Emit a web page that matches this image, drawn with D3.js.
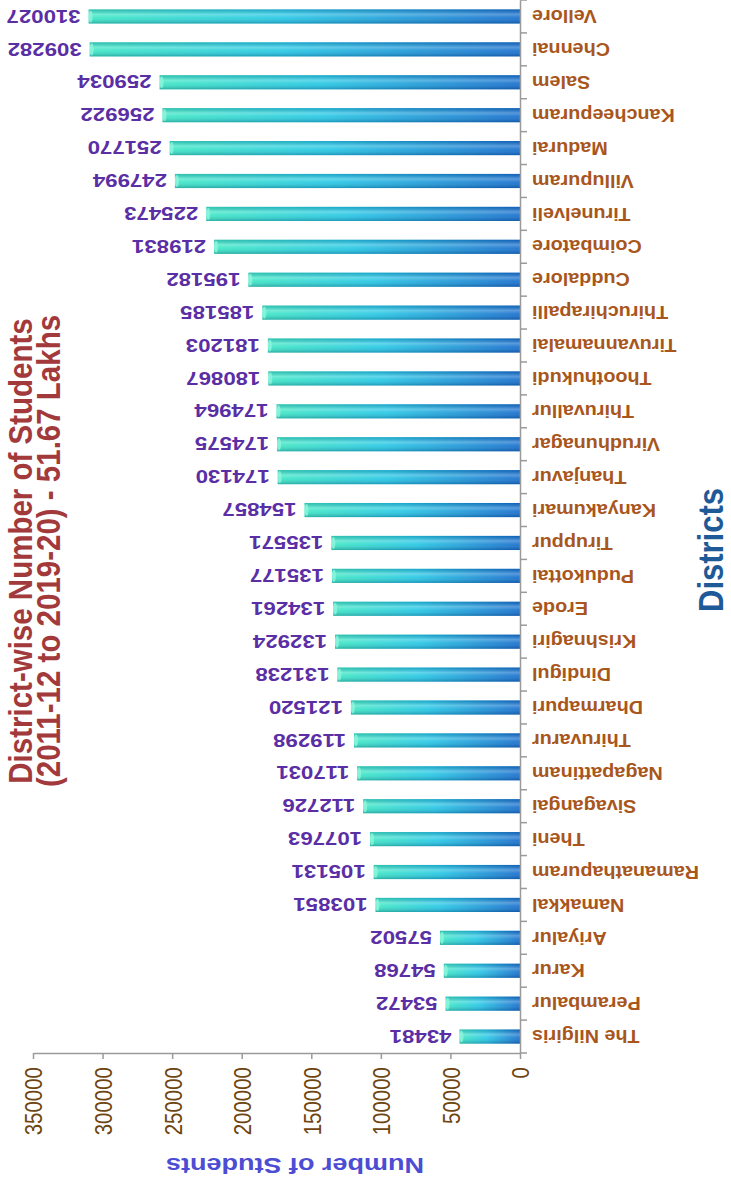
<!DOCTYPE html>
<html>
<head>
<meta charset="utf-8">
<script src="https://cdn.jsdelivr.net/npm/d3@7"></script>
<style>
    body { margin: 0; background: #fff; }
    svg { display: block; font-family: "Liberation Sans", Arial, sans-serif; }
</style>
</head>
<body>
<svg id="chart" width="731" height="1189"></svg>
<script>
// districts listed top to bottom as they appear
var districts = ["Vellore", "Chennai", "Salem", "Kancheepuram", "Madurai", "Villupuram",
    "Tirunelveli", "Coimbatore", "Cuddalore", "Thiruchirapalli", "Tiruvannamalai",
    "Thoothukudi", "Thiruvallur", "Virudhunagar", "Thanjavur", "Kanyakumari", "Tiruppur",
    "Pudukottai", "Erode", "Krishnagiri", "Dindigul", "Dharmapuri", "Thiruvarur",
    "Nagapattinam", "Sivagangai", "Theni", "Ramanathapuram", "Namakkal", "Ariyalur",
    "Karur", "Perambalur", "The Nilgiris"];

var students = [310027, 309282, 259034, 256922, 251770, 247994,
    225473, 219831, 195182, 185185, 181203,
    180867, 174964, 174575, 174130, 154857, 135571,
    135177, 134261, 132924, 131238, 121520, 119298,
    117031, 112726, 107763, 105131, 103851, 57502,
    54768, 53472, 43481];

var valueTicks = [0, 50000, 100000, 150000, 200000, 250000, 300000, 350000];

var titleLines = ["District-wise Number of Students", "(2011-12 to 2019-20) - 51.67 Lakhs"];
var valueTitle = "Number of Students";
var categoryTitle = "Districts";

drawChart();

function drawChart() {
    var svg = d3.select("#chart");
    var axisX = 520;
    var axisY = 1053;

    var data = districts.map((d, i) => {
        return {name: d, value: students[i]};
    });

    var x = d3.scaleLinear()
        .domain([0, 350000])
        .range([axisX, 33]);

    var y = d3.scaleBand()
        .domain(districts)
        .range([0, axisY])
        .paddingInner(0.57)
        .paddingOuter(0.285);

    // gradients for the bars
    var defs = svg.append('defs');
    var grad = defs.append('linearGradient')
        .attr('id', 'barFill')
        .attr('x1', 0).attr('x2', 1).attr('y1', 0).attr('y2', 0);
    grad.append('stop').attr('offset', '0%').attr('stop-color', '#3ae6c2');
    grad.append('stop').attr('offset', '45%').attr('stop-color', '#22c6e4');
    grad.append('stop').attr('offset', '100%').attr('stop-color', '#136ccc');

    var shine = defs.append('linearGradient')
        .attr('id', 'barShine')
        .attr('x1', 0).attr('x2', 0).attr('y1', 0).attr('y2', 1);
    shine.append('stop').attr('offset', '0%').attr('stop-color', '#003060').attr('stop-opacity', 0.2);
    shine.append('stop').attr('offset', '35%').attr('stop-color', '#ffffff').attr('stop-opacity', 0.3);
    shine.append('stop').attr('offset', '60%').attr('stop-color', '#ffffff').attr('stop-opacity', 0.1);
    shine.append('stop').attr('offset', '100%').attr('stop-color', '#002050').attr('stop-opacity', 0.28);

    var bars = svg.append('g');

    bars.selectAll('rect.bar')
        .data(data)
        .enter().append('rect')
        .attr('class', 'bar')
        .attr('x', (d) => x(d.value))
        .attr('y', (d) => y(d.name))
        .attr('width', (d) => x(0) - x(d.value))
        .attr('height', y.bandwidth())
        .attr('fill', 'url(#barFill)');

    bars.selectAll('rect.shine')
        .data(data)
        .enter().append('rect')
        .attr('class', 'shine')
        .attr('x', (d) => x(d.value))
        .attr('y', (d) => y(d.name))
        .attr('width', (d) => x(0) - x(d.value))
        .attr('height', y.bandwidth())
        .attr('fill', 'url(#barShine)');

    // light end cap
    bars.selectAll('ellipse')
        .data(data)
        .enter().append('ellipse')
        .attr('cx', (d) => x(d.value) + 2)
        .attr('cy', (d) => y(d.name) + y.bandwidth() / 2)
        .attr('rx', 2)
        .attr('ry', y.bandwidth() / 2 - 1)
        .attr('fill', '#8ff5dc')
        .attr('opacity', 0.8);

    // value labels
    svg.append('g').selectAll('text')
        .data(data)
        .enter().append('text')
        .attr('transform', (d) => 'translate(' + (x(d.value) - 8) + ',' + (y(d.name) + y.bandwidth() / 2) + ') rotate(180) scale(1.17,1)')
        .attr('dy', '0.36em')
        .attr('text-anchor', 'start')
        .attr('font-size', 19)
        .attr('font-weight', 'bold')
        .attr('fill', '#5a2ea4')
        .text((d) => d.value);

    // value axis
    var gx = svg.append('g')
        .attr('transform', 'translate(0,' + axisY + ')')
        .call(d3.axisBottom(x).tickValues(valueTicks).tickSize(6).tickSizeOuter(0).tickFormat(d3.format('d')));
    gx.select('.domain').attr('stroke', '#9a9a9a').attr('stroke-width', 1.5);
    gx.selectAll('.tick line').attr('stroke', '#9a9a9a').attr('stroke-width', 1.5);
    gx.selectAll('.tick text')
        .attr('x', -14)
        .attr('y', 0)
        .attr('dy', '0.36em')
        .attr('text-anchor', 'end')
        .attr('transform', 'rotate(-90) scale(1,1.2)')
        .attr('font-size', 20.5)
        .attr('font-family', '"Liberation Sans", Arial, sans-serif')
        .attr('fill', '#6e4510');

    // category axis
    var gy = svg.append('g')
        .attr('transform', 'translate(' + axisX + ',0)')
        .call(d3.axisRight(y).tickSize(0).tickSizeOuter(0));
    gy.select('.domain').attr('stroke', '#9a9a9a').attr('stroke-width', 1.5);
    gy.selectAll('.tick text')
        .attr('x', 0)
        .attr('dy', '0.36em')
        .attr('text-anchor', 'end')
        .attr('transform', 'translate(12,0) rotate(180) scale(1.13,1)')
        .attr('font-size', 17.5)
        .attr('font-weight', 'bold')
        .attr('font-family', '"Liberation Sans", Arial, sans-serif')
        .attr('fill', '#a8561c');

    var gap = (y.step() - y.bandwidth()) / 2;
    var bounds = districts.map((d) => y(d) - gap);
    bounds.push(axisY);
    gy.selectAll('line.sep')
        .data(bounds)
        .enter().append('line')
        .attr('class', 'sep')
        .attr('x1', 0).attr('x2', 7)
        .attr('y1', (d) => d).attr('y2', (d) => d)
        .attr('stroke', '#9a9a9a')
        .attr('stroke-width', 1.5);

    // titles
    svg.append('g').selectAll('text')
        .data(titleLines)
        .enter().append('text')
        .attr('transform', (d, i) => 'translate(' + (32 + i * 28) + ',551) rotate(-90) scale(1,1.1)')
        .attr('text-anchor', 'middle')
        .attr('font-size', 29.5)
        .attr('font-weight', 'bold')
        .attr('fill', '#a23a3c')
        .text((d) => d);

    svg.append('text')
        .attr('transform', 'translate(723,550) rotate(-90) scale(1,1.15)')
        .attr('text-anchor', 'middle')
        .attr('font-size', 31)
        .attr('font-weight', 'bold')
        .attr('fill', '#1f5a98')
        .text(categoryTitle);

    svg.append('text')
        .attr('transform', 'translate(295,1158) rotate(180) scale(1.2,1)')
        .attr('text-anchor', 'middle')
        .attr('font-size', 22.5)
        .attr('font-weight', 'bold')
        .attr('fill', '#4c4cd4')
        .text(valueTitle);
}
</script>
</body>
</html>
